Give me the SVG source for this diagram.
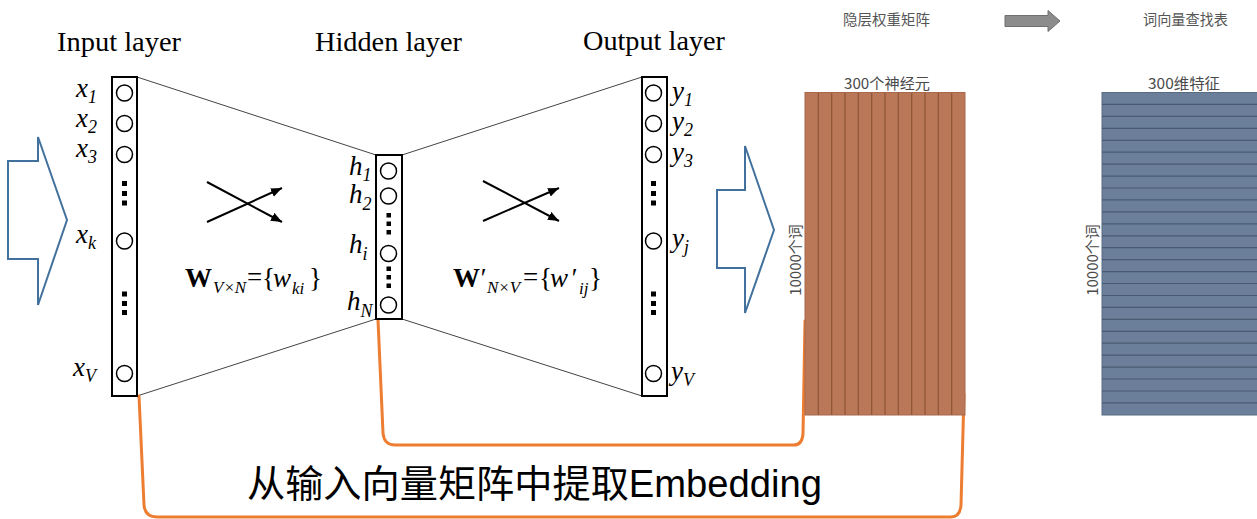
<svg xmlns="http://www.w3.org/2000/svg" width="1257" height="519" viewBox="0 0 1257 519">
<defs>
<style>
.head{font-family:"Liberation Serif","DejaVu Serif",serif;font-size:27px;fill:#000}
.lbl{font-family:"Liberation Serif","DejaVu Serif",serif;font-style:italic;font-size:27px;fill:#000}
.sub{font-size:18px}
.f{font-family:"Liberation Serif","DejaVu Serif",serif;font-size:27px;fill:#000}
.box{fill:#fff;stroke:#000;stroke-width:2}
.node{fill:#fff;stroke:#000;stroke-width:1.5}
.dot{fill:#000}
.edge{stroke:#444;stroke-width:1;fill:none}
.xarr{stroke:#000;stroke-width:2;fill:none;marker-end:url(#ah)}
.blue{fill:#fff;stroke:#41719c;stroke-width:2;stroke-linejoin:miter}
.orange{fill:none;stroke:#ed7d31;stroke-width:3;stroke-linecap:round}
.cn{font-family:"Noto Sans CJK SC","Noto Sans",sans-serif;font-size:14.5px;fill:#555}
.cn2{font-family:"Noto Sans CJK SC","Noto Sans",sans-serif;font-size:15px;fill:#4a4a4a}
.big{font-family:"Liberation Sans","Noto Sans CJK SC",sans-serif;font-size:38px;fill:#000}
.vline{stroke:#8c5436;stroke-width:1.2}
.hline{stroke:#4a5a72;stroke-width:1.2}
</style>
<marker id="ah" markerUnits="userSpaceOnUse" markerWidth="12" markerHeight="10" refX="11" refY="4.5" orient="auto">
<path d="M0,0 L11,4.5 L0,9 Z" fill="#000"/>
</marker>
</defs>
<rect width="1257" height="519" fill="#fff"/>

<g id="headings">
<text class="head" x="57" y="51" textLength="124" lengthAdjust="spacingAndGlyphs">Input layer</text>
<text class="head" x="315" y="51" textLength="147" lengthAdjust="spacingAndGlyphs">Hidden layer</text>
<text class="head" x="583" y="50" textLength="142" lengthAdjust="spacingAndGlyphs">Output layer</text>
</g>

<g id="connectors">
<line class="edge" x1="137" y1="77" x2="376" y2="155"/>
<line class="edge" x1="137" y1="396" x2="376" y2="319"/>
<line class="edge" x1="402" y1="155" x2="642" y2="77"/>
<line class="edge" x1="402" y1="319" x2="642" y2="396"/>
<line class="xarr" x1="207" y1="182" x2="282" y2="222"/>
<line class="xarr" x1="207" y1="222" x2="282" y2="188"/>
<line class="xarr" x1="483" y1="181" x2="559" y2="221"/>
<line class="xarr" x1="483" y1="221" x2="559" y2="188"/>
<path class="orange" d="M378,320 L383,433 Q384,445 395,445 L794,445 Q802,445 803,434 L805,321"/>
<path class="orange" d="M139,396 L144,505 Q145,517 157,517 L951,517 Q960,517 961,505 L964,394"/>
</g>

<g id="input-arrow">
<polygon class="blue" points="8,161 38,161 38,137 67,220 38,305 38,259 8,259"/>
</g>

<g id="input-layer">
<rect class="box" x="112" y="77" width="25" height="319"/>
<circle class="node" cx="124.5" cy="93" r="8"/>
<circle class="node" cx="124.5" cy="123.5" r="8"/>
<circle class="node" cx="124.5" cy="154.5" r="8"/>
<circle class="node" cx="124.5" cy="241" r="8"/>
<circle class="node" cx="124.5" cy="373.5" r="8"/>
<rect class="dot" x="122" y="181" width="5" height="5"/>
<rect class="dot" x="122" y="191" width="5" height="5"/>
<rect class="dot" x="122" y="200.5" width="5" height="5"/>
<rect class="dot" x="122" y="291.5" width="5" height="5"/>
<rect class="dot" x="122" y="301" width="5" height="5"/>
<rect class="dot" x="122" y="310" width="5" height="5"/>
<text class="lbl" x="76" y="97">x<tspan class="sub" dy="6">1</tspan></text>
<text class="lbl" x="76" y="127">x<tspan class="sub" dy="6">2</tspan></text>
<text class="lbl" x="76" y="157">x<tspan class="sub" dy="6">3</tspan></text>
<text class="lbl" x="76" y="243">x<tspan class="sub" dy="6">k</tspan></text>
<text class="lbl" x="73" y="376">x<tspan class="sub" dy="6">V</tspan></text>
</g>

<g id="weights-in">
<text class="f" y="287"><tspan x="185" font-weight="bold">W</tspan><tspan x="213" y="293" font-style="italic" font-size="17">V×N</tspan><tspan x="247" y="286">=</tspan><tspan x="262" y="287">{</tspan><tspan x="273" font-style="italic">w</tspan><tspan x="292" y="294" font-style="italic" font-size="17">ki</tspan><tspan x="309" y="287">}</tspan></text>
</g>

<g id="hidden-layer">
<rect class="box" x="376" y="155" width="26" height="164"/>
<circle class="node" cx="388.5" cy="171" r="8"/>
<circle class="node" cx="388.5" cy="196" r="8"/>
<circle class="node" cx="388.5" cy="253.5" r="8"/>
<circle class="node" cx="388.5" cy="305" r="8"/>
<rect class="dot" x="386.5" y="213" width="4.5" height="4.5"/>
<rect class="dot" x="386.5" y="221.5" width="4.5" height="4.5"/>
<rect class="dot" x="386.5" y="230" width="4.5" height="4.5"/>
<rect class="dot" x="386.5" y="266.5" width="4.5" height="4.5"/>
<rect class="dot" x="386.5" y="275" width="4.5" height="4.5"/>
<rect class="dot" x="386.5" y="283.5" width="4.5" height="4.5"/>
<text class="lbl" x="349" y="175">h<tspan class="sub" dy="6">1</tspan></text>
<text class="lbl" x="349" y="203">h<tspan class="sub" dy="7">2</tspan></text>
<text class="lbl" x="349" y="253">h<tspan class="sub" dy="7">i</tspan></text>
<text class="lbl" x="347" y="310">h<tspan class="sub" dy="7">N</tspan></text>
</g>

<g id="weights-out">
<text class="f" y="287"><tspan x="453" font-weight="bold">W</tspan><tspan x="479" font-style="italic">′</tspan><tspan x="487" y="293" font-style="italic" font-size="17">N×V</tspan><tspan x="523" y="286">=</tspan><tspan x="539" y="287">{</tspan><tspan x="550" font-style="italic">w</tspan><tspan x="570" font-style="italic">′</tspan><tspan x="579" y="294" font-style="italic" font-size="17">ij</tspan><tspan x="589" y="287">}</tspan></text>
</g>

<g id="output-layer">
<rect class="box" x="642" y="77" width="25" height="319"/>
<circle class="node" cx="653.5" cy="93" r="8"/>
<circle class="node" cx="653.5" cy="123.5" r="8"/>
<circle class="node" cx="653.5" cy="154.5" r="8"/>
<circle class="node" cx="653.5" cy="241" r="8"/>
<circle class="node" cx="653.5" cy="373.5" r="8"/>
<rect class="dot" x="651" y="181" width="5" height="5"/>
<rect class="dot" x="651" y="191" width="5" height="5"/>
<rect class="dot" x="651" y="200.5" width="5" height="5"/>
<rect class="dot" x="651" y="291.5" width="5" height="5"/>
<rect class="dot" x="651" y="301" width="5" height="5"/>
<rect class="dot" x="651" y="310" width="5" height="5"/>
<text class="lbl" x="672" y="100">y<tspan class="sub" dy="6">1</tspan></text>
<text class="lbl" x="672" y="130">y<tspan class="sub" dy="6">2</tspan></text>
<text class="lbl" x="672" y="161">y<tspan class="sub" dy="6">3</tspan></text>
<text class="lbl" x="672" y="247">y<tspan class="sub" dy="6">j</tspan></text>
<text class="lbl" x="671" y="380">y<tspan class="sub" dy="6">V</tspan></text>
</g>

<g id="output-arrow">
<polygon class="blue" points="717,190 745,190 745,146 774,230 745,313 745,268 717,268"/>
</g>

<g id="hidden-weight-matrix">
<text class="cn" x="843" y="25" textLength="87" lengthAdjust="spacingAndGlyphs">隐层权重矩阵</text>
<text class="cn2" x="844" y="88.5" textLength="86" lengthAdjust="spacingAndGlyphs">300个神经元</text>
<rect x="805" y="92.5" width="160" height="322.5" fill="#ba7858" stroke="#a8694b" stroke-width="1"/>
<line class="vline" x1="818.3" y1="93" x2="818.3" y2="415"/>
<line class="vline" x1="831.7" y1="93" x2="831.7" y2="415"/>
<line class="vline" x1="845" y1="93" x2="845" y2="415"/>
<line class="vline" x1="858.3" y1="93" x2="858.3" y2="415"/>
<line class="vline" x1="871.7" y1="93" x2="871.7" y2="415"/>
<line class="vline" x1="885" y1="93" x2="885" y2="415"/>
<line class="vline" x1="898.3" y1="93" x2="898.3" y2="415"/>
<line class="vline" x1="911.7" y1="93" x2="911.7" y2="415"/>
<line class="vline" x1="925" y1="93" x2="925" y2="415"/>
<line class="vline" x1="938.3" y1="93" x2="938.3" y2="415"/>
<line class="vline" x1="951.7" y1="93" x2="951.7" y2="415"/>
<text class="cn2" transform="translate(801,260) rotate(-90)" text-anchor="middle">10000个词</text>
</g>

<g id="transform-arrow">
<polygon points="1005,15.5 1048,15.5 1048,10.5 1060,21 1048,31.5 1048,26.5 1005,26.5" fill="#8c8c8c" stroke="#6f6f6f" stroke-width="1"/>
</g>

<g id="word-vector-table">
<text class="cn" x="1143" y="25" textLength="85" lengthAdjust="spacingAndGlyphs">词向量查找表</text>
<text class="cn2" x="1148" y="88.5" textLength="72" lengthAdjust="spacingAndGlyphs">300维特征</text>
<rect x="1102" y="92.5" width="160" height="322.5" fill="#6b7f9a" stroke="#5a6b84" stroke-width="1"/>
<g class="hline">
<line x1="1102" y1="104.4" x2="1257" y2="104.4"/>
<line x1="1102" y1="116.4" x2="1257" y2="116.4"/>
<line x1="1102" y1="128.3" x2="1257" y2="128.3"/>
<line x1="1102" y1="140.3" x2="1257" y2="140.3"/>
<line x1="1102" y1="152.2" x2="1257" y2="152.2"/>
<line x1="1102" y1="164.1" x2="1257" y2="164.1"/>
<line x1="1102" y1="176.1" x2="1257" y2="176.1"/>
<line x1="1102" y1="188.0" x2="1257" y2="188.0"/>
<line x1="1102" y1="199.9" x2="1257" y2="199.9"/>
<line x1="1102" y1="211.9" x2="1257" y2="211.9"/>
<line x1="1102" y1="223.8" x2="1257" y2="223.8"/>
<line x1="1102" y1="235.8" x2="1257" y2="235.8"/>
<line x1="1102" y1="247.7" x2="1257" y2="247.7"/>
<line x1="1102" y1="259.6" x2="1257" y2="259.6"/>
<line x1="1102" y1="271.6" x2="1257" y2="271.6"/>
<line x1="1102" y1="283.5" x2="1257" y2="283.5"/>
<line x1="1102" y1="295.5" x2="1257" y2="295.5"/>
<line x1="1102" y1="307.4" x2="1257" y2="307.4"/>
<line x1="1102" y1="319.3" x2="1257" y2="319.3"/>
<line x1="1102" y1="331.3" x2="1257" y2="331.3"/>
<line x1="1102" y1="343.2" x2="1257" y2="343.2"/>
<line x1="1102" y1="355.1" x2="1257" y2="355.1"/>
<line x1="1102" y1="367.1" x2="1257" y2="367.1"/>
<line x1="1102" y1="379.0" x2="1257" y2="379.0"/>
<line x1="1102" y1="391.0" x2="1257" y2="391.0"/>
<line x1="1102" y1="402.9" x2="1257" y2="402.9"/>
</g>
<text class="cn2" transform="translate(1098,260) rotate(-90)" text-anchor="middle">10000个词</text>
</g>

<g id="caption">
<text class="big" x="247" y="497" textLength="575" lengthAdjust="spacingAndGlyphs">从输入向量矩阵中提取Embedding</text>
</g>
</svg>
